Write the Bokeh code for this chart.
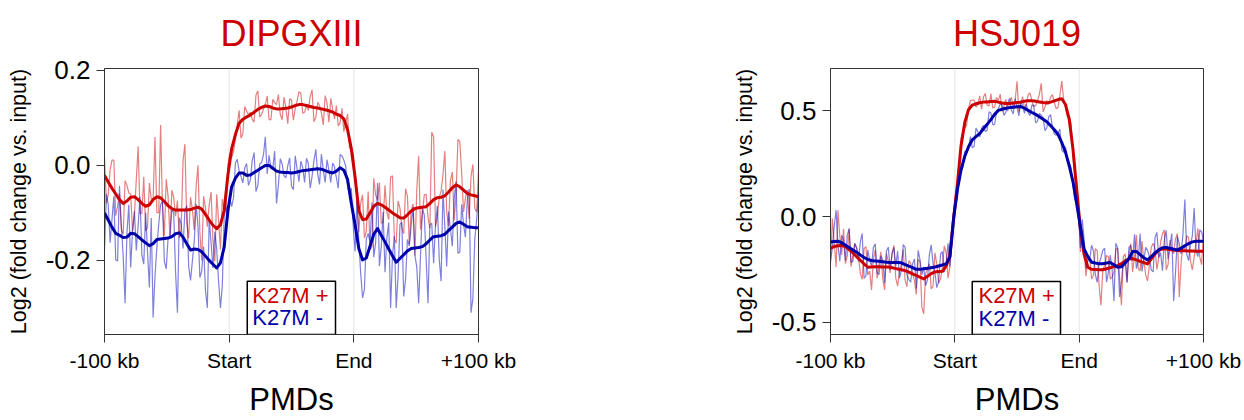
from bokeh.plotting import figure
from bokeh.layouts import row, column
from bokeh.models import Range1d, FixedTicker, NumeralTickFormatter, Label, Span, BoxAnnotation
from bokeh.core.properties import value
from bokeh.embed import file_html
from bokeh.resources import INLINE

FONT = "Liberation Sans"
RED = "#CC0000"
BLUE = "#0000AA"

# bin positions: 0 = -100 kb, 100 = PMD start, 200 = PMD end, 300 = +100 kb
bins = list(range(0, 301, 3))                       # main bins (smooth + raw)
half_bins = [b + 1.5 for b in range(0, 300, 3)]     # intermediate raw bins
x_tick_pos = [0, 100, 200, 300]
x_tick_labels = ["-100 kb", "Start", "End", "+100 kb"]
titles = ["DIPGXIII", "HSJ019"]
legend_labels = ["K27M +", "K27M -"]

# ---------------- DIPGXIII ----------------
dipg_pos_smooth = [
    -0.021, -0.035, -0.048, -0.060, -0.072, -0.080, -0.075, -0.067, -0.066, -0.072,
    -0.080, -0.086, -0.083, -0.072, -0.066, -0.068, -0.076, -0.085, -0.091, -0.094,
    -0.094, -0.094, -0.094, -0.093, -0.090, -0.088, -0.092, -0.103, -0.115, -0.126,
    -0.133, -0.125, -0.095, -0.020, 0.035, 0.065, 0.089, 0.097, 0.102, 0.106,
    0.112, 0.118, 0.122, 0.125, 0.124, 0.121, 0.119, 0.119, 0.120, 0.121,
    0.123, 0.126, 0.128, 0.128, 0.126, 0.124, 0.122, 0.121, 0.119, 0.117,
    0.115, 0.112, 0.108, 0.105, 0.098, 0.075, 0.035, -0.025, -0.095, -0.114,
    -0.113, -0.100, -0.086, -0.080, -0.083, -0.088, -0.094, -0.100, -0.105, -0.110,
    -0.111, -0.104, -0.096, -0.091, -0.089, -0.088, -0.087, -0.080, -0.072, -0.068,
    -0.067, -0.064, -0.056, -0.047, -0.041, -0.045, -0.052, -0.059, -0.062, -0.064,
    -0.066]
dipg_pos_raw = [
    0.018, -0.061, 0.011, -0.106, -0.059, -0.145, -0.042, -0.060, -0.105, 0.040,
    -0.100, -0.138, -0.037, -0.072, -0.099, 0.085, -0.148, -0.065, -0.052, -0.107,
    -0.153, 0.010, -0.120, -0.067, -0.136, 0.000, -0.200, -0.090, -0.082, -0.159,
    -0.061, -0.177, -0.095, 0.001, 0.017, 0.056, 0.116, 0.067, 0.114, 0.112,
    0.091, 0.157, 0.107, 0.128, 0.097, 0.139, 0.128, 0.107, 0.144, 0.088,
    0.138, 0.120, 0.155, 0.110, 0.126, 0.145, 0.092, 0.133, 0.110, 0.147,
    0.091, 0.118, 0.126, 0.090, 0.071, 0.108, 0.032, -0.018, -0.141, -0.062,
    -0.139, -0.178, -0.027, -0.073, -0.122, -0.042, -0.114, -0.022, -0.164, -0.090,
    -0.144, -0.065, -0.096, -0.190, 0.020, -0.101, -0.061, -0.132, 0.060, -0.107,
    -0.054, 0.030, -0.128, -0.014, -0.061, 0.050, -0.098, -0.052, -0.023, -0.090,
    -0.014]
dipg_pos_raw_half = [
    -0.080, -0.009, 0.011, -0.086, -0.135, -0.032, -0.058, -0.139, -0.030, -0.102,
    -0.024, -0.131, -0.071, 0.060, -0.100, -0.085, -0.029, -0.153, -0.067, -0.074,
    -0.133, 0.045, -0.153, -0.092, -0.043, -0.142, -0.065, -0.129, -0.056, -0.202,
    -0.116, -0.071, -0.091, 0.026, 0.029, 0.086, 0.057, 0.124, 0.107, 0.097,
    0.148, 0.102, 0.118, 0.146, 0.096, 0.132, 0.149, 0.096, 0.121, 0.140,
    0.095, 0.136, 0.152, 0.112, 0.116, 0.159, 0.101, 0.126, 0.085, 0.131,
    0.141, 0.098, 0.083, 0.120, 0.090, 0.037, 0.025, -0.073, -0.079, -0.153,
    -0.055, -0.171, -0.063, -0.036, -0.119, -0.098, -0.025, -0.155, -0.075, -0.131,
    -0.049, -0.165, -0.081, -0.051, -0.135, -0.062, -0.110, 0.070, -0.129, -0.068,
    -0.020, -0.099, -0.032, -0.116, 0.055, -0.016, -0.069, -0.113, 0.002, -0.098]
dipg_neg_smooth = [
    -0.100, -0.115, -0.130, -0.143, -0.147, -0.152, -0.151, -0.143, -0.144, -0.150,
    -0.157, -0.163, -0.169, -0.165, -0.156, -0.155, -0.154, -0.153, -0.150, -0.144,
    -0.142, -0.151, -0.165, -0.178, -0.176, -0.177, -0.182, -0.191, -0.200, -0.208,
    -0.216, -0.205, -0.172, -0.095, -0.045, -0.027, -0.016, -0.016, -0.021, -0.020,
    -0.015, -0.010, -0.005, 0.000, 0.000, -0.006, -0.012, -0.014, -0.015, -0.015,
    -0.016, -0.015, -0.013, -0.011, -0.010, -0.009, -0.008, -0.007, -0.008, -0.011,
    -0.014, -0.016, -0.012, -0.005, -0.010, -0.030, -0.080, -0.125, -0.175, -0.199,
    -0.195, -0.170, -0.145, -0.133, -0.147, -0.161, -0.176, -0.190, -0.204, -0.196,
    -0.188, -0.180, -0.175, -0.174, -0.173, -0.171, -0.165, -0.157, -0.150, -0.149,
    -0.148, -0.145, -0.137, -0.130, -0.122, -0.119, -0.124, -0.129, -0.130, -0.131,
    -0.131]
dipg_neg_raw = [
    -0.180, -0.083, -0.114, -0.199, -0.043, -0.192, -0.143, -0.215, -0.096, -0.126,
    -0.189, -0.099, -0.257, -0.320, -0.172, -0.083, -0.202, -0.153, -0.094, -0.224,
    -0.110, -0.175, -0.085, -0.242, -0.160, -0.129, -0.222, -0.263, -0.112, -0.216,
    -0.176, -0.300, -0.108, -0.111, -0.087, 0.005, -0.012, -0.037, 0.004, -0.031,
    0.027, -0.042, 0.006, 0.060, 0.021, -0.006, -0.080, 0.014, -0.022, -0.001,
    -0.044, 0.020, -0.034, -0.004, 0.015, -0.048, 0.010, -0.018, 0.024, -0.036,
    -0.010, 0.005, -0.026, 0.023, 0.011, -0.044, -0.048, -0.181, -0.159, -0.279,
    -0.155, -0.162, -0.193, -0.037, -0.171, -0.225, -0.120, -0.190, -0.300, -0.124,
    -0.276, -0.156, -0.127, -0.190, -0.290, -0.091, -0.197, -0.125, -0.206, -0.085,
    -0.244, -0.129, -0.097, -0.170, -0.034, -0.183, -0.124, -0.073, -0.310, -0.155,
    -0.059]
dipg_neg_raw_half = [
    -0.060, -0.163, -0.065, -0.201, -0.126, -0.290, -0.083, -0.136, -0.179, -0.066,
    -0.208, -0.182, -0.111, -0.233, -0.124, -0.075, -0.218, -0.152, -0.099, -0.310,
    -0.123, -0.094, -0.212, -0.201, -0.081, -0.236, -0.171, -0.300, -0.164, -0.140,
    -0.243, -0.253, -0.086, -0.067, -0.068, 0.013, -0.023, -0.005, -0.042, 0.010,
    -0.055, 0.003, 0.022, -0.018, -0.007, 0.030, -0.041, 0.003, -0.026, 0.016,
    -0.051, -0.007, 0.009, -0.036, 0.004, -0.023, 0.034, -0.040, -0.010, 0.012,
    -0.036, -0.003, -0.048, 0.020, -0.002, -0.061, -0.127, -0.070, -0.227, -0.261,
    -0.143, -0.078, -0.163, -0.212, -0.098, -0.153, -0.300, -0.149, -0.232, -0.120,
    -0.240, -0.170, -0.087, -0.214, -0.188, -0.104, -0.290, -0.122, -0.126, -0.197,
    -0.051, -0.213, -0.134, -0.070, -0.185, -0.082, -0.151, -0.050, -0.280, -0.115]

# ---------------- HSJ019 ----------------
hsj_pos_smooth = [
    -0.150, -0.142, -0.138, -0.137, -0.142, -0.157, -0.172, -0.190, -0.207, -0.224,
    -0.240, -0.239, -0.238, -0.238, -0.239, -0.239, -0.240, -0.244, -0.248, -0.252,
    -0.256, -0.263, -0.271, -0.279, -0.287, -0.295, -0.283, -0.270, -0.262, -0.260,
    -0.259, -0.235, -0.185, -0.010, 0.150, 0.335, 0.445, 0.505, 0.527, 0.533,
    0.538, 0.541, 0.542, 0.544, 0.545, 0.541, 0.537, 0.534, 0.534, 0.537,
    0.539, 0.541, 0.545, 0.548, 0.548, 0.545, 0.542, 0.539, 0.537, 0.541,
    0.547, 0.553, 0.557, 0.530, 0.460, 0.320, 0.130, -0.060, -0.180, -0.240,
    -0.250, -0.251, -0.252, -0.252, -0.247, -0.242, -0.237, -0.232, -0.222, -0.212,
    -0.200, -0.199, -0.205, -0.212, -0.218, -0.224, -0.200, -0.177, -0.160, -0.153,
    -0.154, -0.156, -0.158, -0.161, -0.162, -0.162, -0.163, -0.163, -0.164, -0.164,
    -0.164]
hsj_pos_raw = [
    -0.222, -0.124, 0.030, -0.182, -0.223, -0.058, -0.181, -0.145, -0.270, -0.152,
    -0.276, -0.347, -0.157, -0.229, -0.293, -0.176, -0.267, -0.136, -0.329, -0.225,
    -0.301, -0.209, -0.271, -0.369, -0.215, -0.460, -0.247, -0.342, -0.172, -0.314,
    -0.241, -0.172, -0.240, 0.010, 0.138, 0.371, 0.417, 0.509, 0.551, 0.517,
    0.570, 0.565, 0.526, 0.580, 0.517, 0.549, 0.497, 0.554, 0.538, 0.513,
    0.640, 0.529, 0.513, 0.576, 0.548, 0.525, 0.578, 0.495, 0.549, 0.565,
    0.539, 0.517, 0.640, 0.514, 0.476, 0.292, 0.162, -0.168, -0.162, -0.195,
    -0.295, -0.152, -0.324, -0.252, -0.184, -0.296, -0.264, -0.151, -0.420, -0.176,
    -0.182, -0.262, -0.088, -0.257, -0.209, -0.305, -0.146, -0.150, -0.196, -0.081,
    -0.253, -0.111, -0.176, -0.080, -0.216, -0.162, -0.100, -0.253, -0.128, -0.191,
    -0.074]
hsj_pos_raw_half = [
    -0.010, -0.239, -0.093, -0.059, -0.186, -0.237, -0.127, -0.190, -0.297, -0.142,
    -0.258, -0.203, -0.292, -0.167, -0.347, -0.213, -0.179, -0.291, -0.259, -0.155,
    -0.332, -0.222, -0.302, -0.202, -0.430, -0.271, -0.223, -0.329, -0.225, -0.296,
    -0.139, -0.291, -0.098, 0.098, 0.219, 0.402, 0.431, 0.548, 0.550, 0.528,
    0.508, 0.582, 0.523, 0.513, 0.563, 0.579, 0.524, 0.498, 0.564, 0.546,
    0.496, 0.567, 0.531, 0.584, 0.519, 0.548, 0.630, 0.518, 0.531, 0.576,
    0.510, 0.571, 0.556, 0.471, 0.438, 0.189, 0.035, -0.057, -0.282, -0.200,
    -0.278, -0.162, -0.420, -0.232, -0.191, -0.285, -0.154, -0.290, -0.190, -0.314,
    -0.128, -0.193, -0.245, -0.116, -0.275, -0.230, -0.126, -0.250, -0.121, -0.064,
    -0.227, -0.157, -0.106, -0.380, -0.135, -0.091, -0.208, -0.191, -0.056, -0.227]
hsj_neg_smooth = [
    -0.121, -0.118, -0.117, -0.124, -0.136, -0.147, -0.158, -0.169, -0.182, -0.194,
    -0.203, -0.208, -0.210, -0.212, -0.214, -0.216, -0.217, -0.218, -0.218, -0.219,
    -0.227, -0.235, -0.242, -0.250, -0.250, -0.247, -0.245, -0.242, -0.239, -0.234,
    -0.229, -0.224, -0.192, -0.010, 0.125, 0.220, 0.285, 0.330, 0.362, 0.378,
    0.392, 0.415, 0.436, 0.458, 0.483, 0.502, 0.507, 0.512, 0.515, 0.517,
    0.519, 0.520, 0.512, 0.502, 0.492, 0.483, 0.472, 0.460, 0.448, 0.430,
    0.410, 0.389, 0.350, 0.305, 0.240, 0.165, 0.060, -0.050, -0.155, -0.190,
    -0.216, -0.220, -0.223, -0.223, -0.220, -0.218, -0.228, -0.240, -0.238, -0.220,
    -0.200, -0.165, -0.165, -0.180, -0.195, -0.205, -0.190, -0.172, -0.158, -0.148,
    -0.146, -0.150, -0.155, -0.158, -0.150, -0.138, -0.128, -0.120, -0.117, -0.117,
    -0.117]
hsj_neg_raw = [
    -0.211, -0.046, -0.135, -0.088, -0.208, -0.057, -0.212, -0.151, -0.119, -0.293,
    -0.158, -0.235, -0.129, -0.275, -0.205, -0.162, -0.253, -0.146, -0.164, -0.255,
    -0.146, -0.298, -0.224, -0.340, -0.205, -0.238, -0.299, -0.134, -0.266, -0.306,
    -0.166, -0.224, -0.237, 0.026, 0.081, 0.232, 0.309, 0.322, 0.326, 0.418,
    0.376, 0.431, 0.408, 0.490, 0.435, 0.510, 0.527, 0.492, 0.559, 0.485,
    0.519, 0.548, 0.488, 0.490, 0.528, 0.443, 0.488, 0.468, 0.420, 0.482,
    0.390, 0.393, 0.314, 0.329, 0.252, 0.149, 0.092, -0.149, -0.110, -0.208,
    -0.135, -0.274, -0.223, -0.160, -0.310, -0.182, -0.400, -0.150, -0.310, -0.202,
    -0.146, -0.210, -0.246, -0.081, -0.204, -0.160, -0.253, -0.100, -0.194, -0.256,
    -0.065, -0.141, -0.400, -0.095, -0.177, 0.080, -0.209, -0.093, -0.162, -0.063,
    -0.117]
hsj_neg_raw_half = [
    -0.147, 0.030, -0.211, -0.112, -0.088, -0.216, -0.128, -0.212, -0.080, -0.280,
    -0.206, -0.146, -0.265, -0.186, -0.314, -0.145, -0.173, -0.236, -0.291, -0.133,
    -0.276, -0.311, -0.201, -0.160, -0.276, -0.327, -0.181, -0.223, -0.336, -0.178,
    -0.263, -0.127, -0.129, 0.062, 0.217, 0.233, 0.300, 0.378, 0.330, 0.401,
    0.416, 0.402, 0.495, 0.435, 0.493, 0.533, 0.478, 0.534, 0.504, 0.558,
    0.476, 0.524, 0.531, 0.477, 0.524, 0.450, 0.478, 0.406, 0.471, 0.424,
    0.384, 0.414, 0.304, 0.265, 0.231, 0.077, 0.021, -0.013, -0.245, -0.203,
    -0.164, -0.312, -0.196, -0.150, -0.264, -0.250, -0.126, -0.380, -0.211, -0.309,
    -0.138, -0.084, -0.209, -0.260, -0.146, -0.189, -0.262, -0.075, -0.171, -0.111,
    -0.202, -0.081, -0.265, -0.127, -0.081, -0.178, -0.133, 0.040, -0.189, -0.072]

dipg_y_ticks = [-0.2, 0.0, 0.2]
hsj_y_ticks = [-0.5, 0.0, 0.5]

TITLE_H = 52       # height of the title strip above each panel (px)
TOP_PAD = 16       # space between title strip and the plot frame (px)
TITLE_BASE = 19    # title text anchor, px above the strip bottom


def merged(main_vals, half_vals):
    pts = sorted(list(zip(bins, main_vals)) + list(zip(half_bins, half_vals)))
    return [p[0] for p in pts], [p[1] for p in pts]


def title_strip(text, width, center_x):
    t = figure(width=width, height=TITLE_H, x_range=Range1d(0, width), y_range=Range1d(0, TITLE_H),
               output_backend="svg", toolbar_location=None, x_axis_type=None, y_axis_type=None,
               min_border=0)
    t.outline_line_color = None
    t.grid.visible = False
    t.background_fill_color = "white"
    t.border_fill_color = "white"
    t.text(x=[center_x], y=[TITLE_BASE], text=[text], text_font=value(FONT),
           text_font_size="36px", text_color=RED, text_align="center",
           text_baseline="alphabetic")
    return t


def panel(pos_raw, pos_half, neg_raw, neg_half, pos_smooth, neg_smooth,
          y_lo, y_hi, y_ticks, width, border_left, border_right, leg):
    p = figure(width=width, height=420 - TITLE_H, x_range=Range1d(0, 300),
               y_range=Range1d(y_lo, y_hi),
               output_backend="svg", toolbar_location=None,
               min_border_left=border_left, min_border_right=border_right,
               min_border_top=TOP_PAD, min_border_bottom=86)
    p.background_fill_color = "white"
    p.border_fill_color = "white"
    p.grid.visible = False
    p.outline_line_color = "#333333"
    p.outline_line_width = 1

    for ax in (p.xaxis[0], p.yaxis[0]):
        ax.axis_line_color = "#333333"
        ax.major_tick_line_color = "#333333"
        ax.major_tick_out = 8
        ax.major_tick_in = 0
        ax.minor_tick_line_color = None
        ax.major_label_text_font = FONT
        ax.major_label_text_color = "black"
        ax.major_label_standoff = 6
        ax.axis_label_text_font = FONT
        ax.axis_label_text_font_style = "normal"
        ax.axis_label_text_color = "black"
    p.xaxis.ticker = FixedTicker(ticks=x_tick_pos)
    p.xaxis.major_label_overrides = {t: s for t, s in zip(x_tick_pos, x_tick_labels)}
    p.xaxis.major_label_text_font_size = "21px"
    p.xaxis.axis_label = "PMDs"
    p.xaxis.axis_label_text_font_size = "31px"
    p.xaxis.axis_label_standoff = 7
    p.yaxis.ticker = FixedTicker(ticks=y_ticks)
    p.yaxis.formatter = NumeralTickFormatter(format="0.0")
    p.yaxis.major_label_text_font_size = "26px"
    p.yaxis.axis_label = "Log2 (fold change vs. input)"
    p.yaxis.axis_label_text_font_size = "21.5px"
    p.yaxis.axis_label_standoff = 12

    for loc in (100, 200):
        p.add_layout(Span(location=loc, dimension="height", line_color="#E4E4E4",
                          line_width=1, level="underlay"))

    px, py = merged(pos_raw, pos_half)
    nx, ny = merged(neg_raw, neg_half)
    p.line(px, py, line_color=RED, line_alpha=0.5, line_width=1.2)
    p.line(nx, ny, line_color="#0000BB", line_alpha=0.5, line_width=1.2)
    p.line(bins, pos_smooth, line_color=RED, line_width=3, line_join="round")
    p.line(bins, neg_smooth, line_color=BLUE, line_width=3, line_join="round")

    # legend box
    p.add_layout(BoxAnnotation(left=leg["box"][0], right=leg["box"][1], top=leg["box"][2],
                               bottom=y_lo, fill_color="white", fill_alpha=1.0,
                               line_color="black", line_width=1.5, line_alpha=1.0))
    p.add_layout(Label(x=leg["x"], y=leg["y"][0], text=legend_labels[0],
                       text_font=FONT, text_font_size="22px", text_color=RED,
                       text_align="left", text_baseline="middle"))
    p.add_layout(Label(x=leg["x"], y=leg["y"][1], text=legend_labels[1],
                       text_font=FONT, text_font_size="22px", text_color=BLUE,
                       text_align="left", text_baseline="middle"))
    return p


W1, W2 = 624, 620
p1 = panel(dipg_pos_raw, dipg_pos_raw_half, dipg_neg_raw, dipg_neg_raw_half,
           dipg_pos_smooth, dipg_neg_smooth, -0.356, 0.204, dipg_y_ticks, W1, 104, 146,
           dict(box=(114.5, 185.3, -0.244), x=118.5, y=(-0.274, -0.321)))
p2 = panel(hsj_pos_raw, hsj_pos_raw_half, hsj_neg_raw, hsj_neg_raw_half,
           hsj_pos_smooth, hsj_neg_smooth, -0.558, 0.700, hsj_y_ticks, W2, 206, 41,
           dict(box=(114.0, 185.0, -0.307), x=119.0, y=(-0.375, -0.480)))
t1 = title_strip(titles[0], W1, 104 + 374 / 2)
t2 = title_strip(titles[1], W2, 206 + 373 / 2)

layout = column(row(t1, t2), row(p1, p2))
open("out.html", "w").write(file_html(layout, INLINE))
